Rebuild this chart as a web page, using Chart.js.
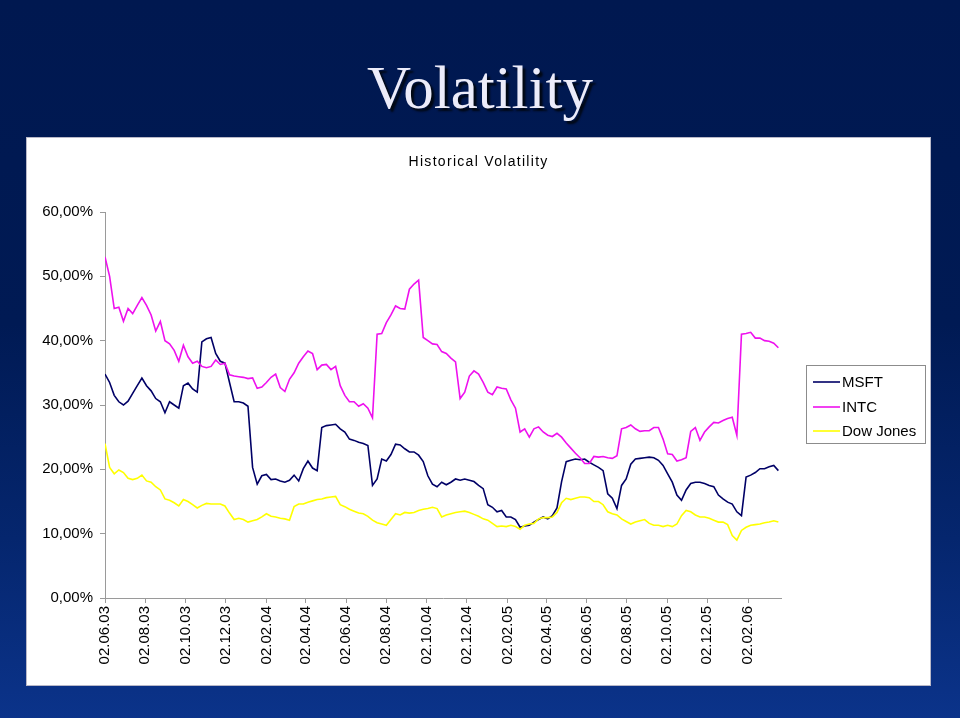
<!DOCTYPE html>
<html><head><meta charset="utf-8">
<script src="https://cdn.jsdelivr.net/npm/chart.js@4.4.1/dist/chart.umd.min.js"></script>
<style>
html,body{margin:0;padding:0;width:960px;height:718px;overflow:hidden;}
body{background:linear-gradient(to bottom,#001850 0%,#001a54 45%,#05266e 75%,#0b338a 100%);position:relative;font-family:"Liberation Sans",Arial,sans-serif;}
#title{position:absolute;left:0;width:960px;top:57px;text-align:center;font-family:"Liberation Serif","Times New Roman",serif;font-size:61px;line-height:61px;color:#ececfa;text-shadow:3px 3px 2px #000814;}
#panel{position:absolute;left:26px;top:137px;width:903px;height:547px;background:#fff;border:1px solid #b8b8c8;}
#c{position:absolute;left:0;top:0;}
</style></head><body>
<div id="title">Volatility</div>
<div id="panel"><canvas id="c" width="903" height="547" style="width:903px;height:547px"></canvas></div>
<script>
// ---- data (weekly samples from 02.06.2003) ----
const startDate = '2003-06-02';
const stepDays = 7;
const seriesNames = ['MSFT', 'INTC', 'Dow Jones'];
const tickLabels = ['02.06.03','02.08.03','02.10.03','02.12.03','02.02.04','02.04.04','02.06.04','02.08.04','02.10.04','02.12.04','02.02.05','02.04.05','02.06.05','02.08.05','02.10.05','02.12.05','02.02.06'];

const msft = [
34.8,33.5,31.5,30.5,30,30.6,31.8,33,34.2,33,
32.2,31,30.5,28.8,30.5,30,29.5,33,33.4,32.5,
32,39.8,40.3,40.5,38,36.8,36.5,33.5,30.5,30.5,
30.3,29.8,20.3,17.7,19,19.2,18.4,18.5,18.2,18,
18.3,19.1,18.2,20.1,21.3,20.2,19.8,26.5,26.8,26.9,
27,26.3,25.8,24.7,24.5,24.2,24,23.7,17.5,18.5,
21.6,21.3,22.3,23.9,23.8,23.2,22.7,22.7,22.2,21.2,
19,17.7,17.3,18,17.6,18,18.5,18.3,18.5,18.3,
18.1,17.5,17,14.5,14.1,13.4,13.6,12.6,12.6,12.2,
11,11.2,11.3,11.8,12.2,12.6,12.3,12.8,14,18.1,
21.2,21.4,21.6,21.5,21.6,21.1,20.7,20.3,19.8,16.2,
15.5,13.9,17.5,18.5,20.8,21.6,21.7,21.8,21.9,21.8,
21.4,20.6,19.3,18,16,15.2,16.8,17.8,18,18,
17.8,17.5,17.3,16,15.4,14.9,14.6,13.4,12.8,18.8,
19.1,19.5,20.1,20.1,20.4,20.6,19.8
];
const intc = [
53,50,45,45.2,43,45,44.2,45.5,46.7,45.5,
44,41.5,43,40,39.5,38.5,36.8,39.3,37.5,36.5,
36.8,36,35.8,36,37,36.3,36.5,34.7,34.5,34.4,
34.3,34.1,34.2,32.6,32.8,33.5,34.3,34.8,32.7,32.1,
34,35,36.5,37.5,38.4,38,35.5,36.2,36.3,35.5,
36,33,31.5,30.5,30.5,29.8,30.2,29.5,28,41,
41.1,42.8,44,45.4,45,44.9,48,48.8,49.4,40.5,
40,39.5,39.4,38.3,38,37.3,36.7,31,32,34.5,
35.3,34.8,33.5,32,31.6,32.8,32.6,32.5,30.8,29.5,
25.8,26.3,25,26.3,26.6,25.8,25.3,25.1,25.6,25,
24.1,23.3,22.5,21.8,20.9,20.9,22,21.9,22,21.8,
21.7,22.1,26.3,26.5,26.9,26.3,25.9,26,26,26.5,
26.5,24.7,22.4,22.3,21.3,21.5,21.8,25.9,26.5,24.5,
25.8,26.6,27.3,27.2,27.6,27.9,28.1,25.3,41,41.1,
41.3,40.4,40.4,40,39.9,39.6,38.9
];
const dowJones = [
24,20.3,19.3,19.9,19.5,18.6,18.4,18.6,19.1,18.2,
18,17.3,16.8,15.4,15.2,14.8,14.3,15.3,15,14.5,
14,14.4,14.7,14.6,14.6,14.6,14.3,13.2,12.2,12.4,
12.2,11.8,12,12.2,12.6,13.1,12.7,12.6,12.4,12.3,
12.1,14.2,14.6,14.6,14.9,15.1,15.3,15.4,15.6,15.7,
15.8,14.5,14.2,13.8,13.5,13.2,13.1,12.7,12.1,11.7,
11.5,11.3,12.2,13.1,12.9,13.3,13.2,13.3,13.6,13.8,
13.9,14.1,13.9,12.6,12.9,13.1,13.3,13.4,13.5,13.3,
13,12.7,12.3,12.1,11.6,11.1,11.2,11.1,11.3,11.1,
10.7,11.3,11.5,11.6,12.3,12.5,12.5,12.6,13.3,14.8,
15.5,15.3,15.5,15.7,15.7,15.6,15,15,14.5,13.4,
13.1,12.9,12.3,11.9,11.5,11.8,12,12.2,11.6,11.3,
11.3,11.1,11.3,11.1,11.5,12.8,13.6,13.4,12.9,12.6,
12.6,12.4,12.1,11.8,11.8,11.4,9.7,9,10.5,11,
11.3,11.4,11.5,11.7,11.8,12,11.8
];

// ---- helpers ----
const t0 = Date.parse(startDate + 'T00:00:00Z');
function labelToDay(s) {
  const p = s.split('.');
  const t = Date.UTC(2000 + parseInt(p[2], 10), parseInt(p[1], 10) - 1, parseInt(p[0], 10));
  return Math.round((t - t0) / 86400000);
}
const tickDays = tickLabels.map(labelToDay);
const toPoints = arr => arr.map((v, i) => ({ x: i * stepDays, y: v }));
const colors = ['#000066', '#ee11ee', '#ffff00'];

const overlay = {
  id: 'overlay',
  afterDraw(chart) {
    const ctx = chart.ctx;
    ctx.save();
    // chart title
    ctx.fillStyle = '#000';
    ctx.font = '14px "Liberation Sans", Arial, sans-serif';
    try { ctx.letterSpacing = '1.3px'; } catch (e) {}
    ctx.textAlign = 'center';
    ctx.textBaseline = 'middle';
    ctx.fillText('Historical Volatility', 451.6, 24);
    try { ctx.letterSpacing = '0px'; } catch (e) {}
    // legend
    ctx.fillStyle = '#fff';
    ctx.fillRect(779.5, 227.5, 119, 78);
    ctx.strokeStyle = '#8c8c8c';
    ctx.lineWidth = 1;
    ctx.strokeRect(779.5, 227.5, 119, 78);
    const rows = [244, 269, 293];
    ctx.font = '15px "Liberation Sans", Arial, sans-serif';
    ctx.textAlign = 'left';
    chart.data.datasets.forEach((ds, i) => {
      ctx.strokeStyle = ds.borderColor;
      ctx.lineWidth = 1.6;
      ctx.beginPath();
      ctx.moveTo(786, rows[i]);
      ctx.lineTo(813, rows[i]);
      ctx.stroke();
      ctx.fillStyle = '#000';
      ctx.fillText(ds.label, 815, rows[i] + 0.5);
    });
    ctx.restore();
  }
};

new Chart(document.getElementById('c'), {
  type: 'line',
  data: {
    datasets: [
      { label: seriesNames[0], data: toPoints(msft), borderColor: colors[0], order: 3 },
      { label: seriesNames[1], data: toPoints(intc), borderColor: colors[1], order: 2 },
      { label: seriesNames[2], data: toPoints(dowJones), borderColor: colors[2], order: 1 }
    ]
  },
  options: {
    responsive: false,
    animation: false,
    devicePixelRatio: 1,
    layout: { padding: { left: 0, right: 149, top: 74, bottom: 0 } },
    elements: {
      line: { borderWidth: 1.6, tension: 0, fill: false },
      point: { radius: 0, hoverRadius: 0 }
    },
    plugins: { legend: { display: false }, title: { display: false }, tooltip: { enabled: false } },
    scales: {
      x: {
        type: 'linear',
        min: 0,
        max: 1026,
        afterBuildTicks: axis => { axis.ticks = tickDays.map(v => ({ value: v })); },
        afterFit: scale => { scale.height = 87; },
        grid: { display: true, drawOnChartArea: false, drawTicks: true, tickLength: 5, color: '#9a9a9a' },
        border: { display: true, color: '#9a9a9a', width: 1 },
        ticks: {
          autoSkip: false,
          maxRotation: 90,
          minRotation: 90,
          padding: 3,
          color: '#000',
          font: { family: '"Liberation Sans", Arial, sans-serif', size: 15 },
          callback: (v, i) => tickLabels[i]
        }
      },
      y: {
        min: 0,
        max: 60,
        afterFit: scale => { scale.width = 78; },
        grid: { display: true, drawOnChartArea: false, drawTicks: true, tickLength: 5, color: '#9a9a9a' },
        border: { display: true, color: '#9a9a9a', width: 1 },
        ticks: {
          stepSize: 10,
          padding: 7,
          color: '#000',
          font: { family: '"Liberation Sans", Arial, sans-serif', size: 15 },
          callback: v => v.toFixed(2).replace('.', ',') + '%'
        }
      }
    }
  },
  plugins: [overlay]
});
</script>
</body></html>
